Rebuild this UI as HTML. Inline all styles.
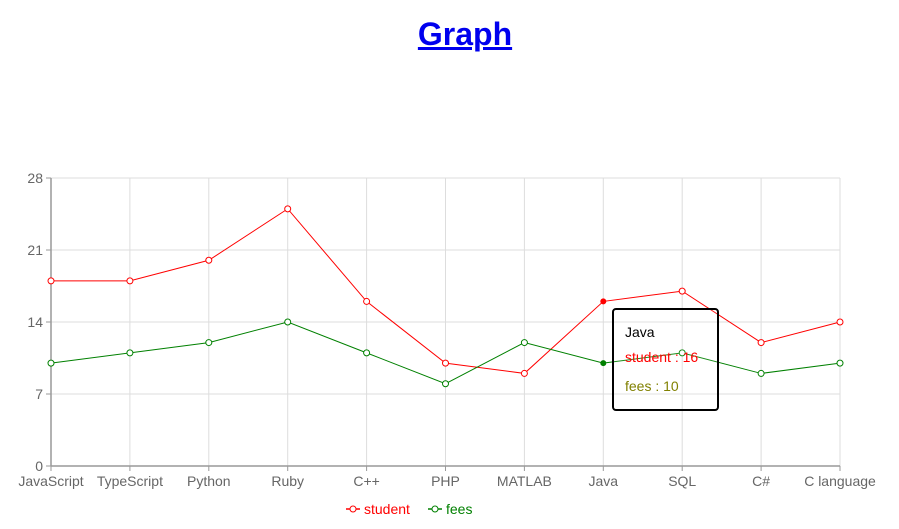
<!DOCTYPE html>
<html><head><meta charset="utf-8"><style>
body{margin:0;width:899px;height:529px;background:#fff;font-family:"Liberation Sans",sans-serif;overflow:hidden}
h1{position:absolute;left:0;width:930px;top:16px;margin:0;text-align:center;font-size:32px;font-weight:bold}
h1 a{color:#0000ee;text-decoration:underline}
svg{position:absolute;left:0;top:0}
text{font-family:"Liberation Sans",sans-serif}
</style></head><body>
<h1><a href="#">Graph</a></h1>
<svg id="c" width="899" height="529"></svg>
<script>
const categories=["JavaScript","TypeScript","Python","Ruby","C++","PHP","MATLAB","Java","SQL","C#","C language"];
const student=[18,18,20,25,16,10,9,16,17,12,14];
const fees=[10,11,12,14,11,8,12,10,11,9,10];
const yTicks=[0,7,14,21,28];
const NS="http://www.w3.org/2000/svg";
const svg=document.getElementById('c');
const X0=51,X1=840,Y0=466,Y1=178,YMAX=28;
const xs=i=>X0+i*(X1-X0)/(categories.length-1);
const ys=v=>Y0-v*(Y0-Y1)/YMAX;
function mk(t,a,p){const e=document.createElementNS(NS,t);for(const k in a)e.setAttribute(k,a[k]);(p||svg).appendChild(e);return e;}
yTicks.forEach(v=>{
 const g=mk('line',{x1:X0,x2:X1,y1:ys(v),y2:ys(v),stroke:'#ddd'});
 
 
 const tk=mk('line',{x1:X0-5,x2:X0,y1:ys(v),y2:ys(v),stroke:'#999'});
 
 
 const t=mk('text',{x:X0-8,y:ys(v)+5,'text-anchor':'end','font-size':14,fill:'#666'});t.textContent=v;
 
 
});
categories.forEach((c,i)=>{
 const g=mk('line',{x1:xs(i),x2:xs(i),y1:Y1,y2:Y0,stroke:'#ddd'});
 
 
 const tk=mk('line',{x1:xs(i),x2:xs(i),y1:Y0,y2:Y0+5,stroke:'#999'});
 
 
 const t=mk('text',{x:xs(i),y:Y0+20,'text-anchor':'middle','font-size':14,fill:'#666'});t.textContent=c;
 
 
});
const ya=mk('line',{x1:X0,x2:X0,y1:Y1,y2:Y0,stroke:'#999','stroke-width':1.5});


const xa=mk('line',{x1:X0,x2:X1,y1:Y0,y2:Y0,stroke:'#999','stroke-width':1.5});


function series(vals,col,name){
 const p=mk('polyline',{points:vals.map((v,i)=>xs(i)+','+ys(v)).join(' '),fill:'none',stroke:col,'stroke-width':1});
 
 
 vals.forEach((v,i)=>{
  const active=i===7;
  const d=mk('circle',{cx:xs(i),cy:ys(v),r:active?2.5:3,fill:active?col:'#fff',stroke:col});
  
  
 });
}
series(student,'#ff0000','student');
series(fees,'#008000','fees');
// tooltip
const tg=mk('g',{});


mk('rect',{x:613,y:309,width:105,height:101,rx:3,fill:'rgba(255,255,255,0.1)',stroke:'#000','stroke-width':2},tg);
const t1=mk('text',{x:625,y:337,'font-size':14,fill:'#000'},tg);t1.textContent=categories[7];
const t2=mk('text',{x:625,y:362,'font-size':14,fill:'#ff0000'},tg);t2.textContent='student : '+student[7];
const t3=mk('text',{x:625,y:391,'font-size':14,fill:'#808000'},tg);t3.textContent='fees : '+fees[7];
// legend
function leg(x,col,label){
 const g=mk('g',{});
 
 
 mk('line',{x1:x,x2:x+14,y1:509,y2:509,stroke:col,'stroke-width':1.5},g);
 mk('circle',{cx:x+7,cy:509,r:3,fill:'#fff',stroke:col},g);
 const t=mk('text',{x:x+18,y:514,'font-size':14,fill:col},g);t.textContent=label;
}
leg(346,'#ff0000','student');
leg(428,'#008000','fees');
</script>
</body></html>
